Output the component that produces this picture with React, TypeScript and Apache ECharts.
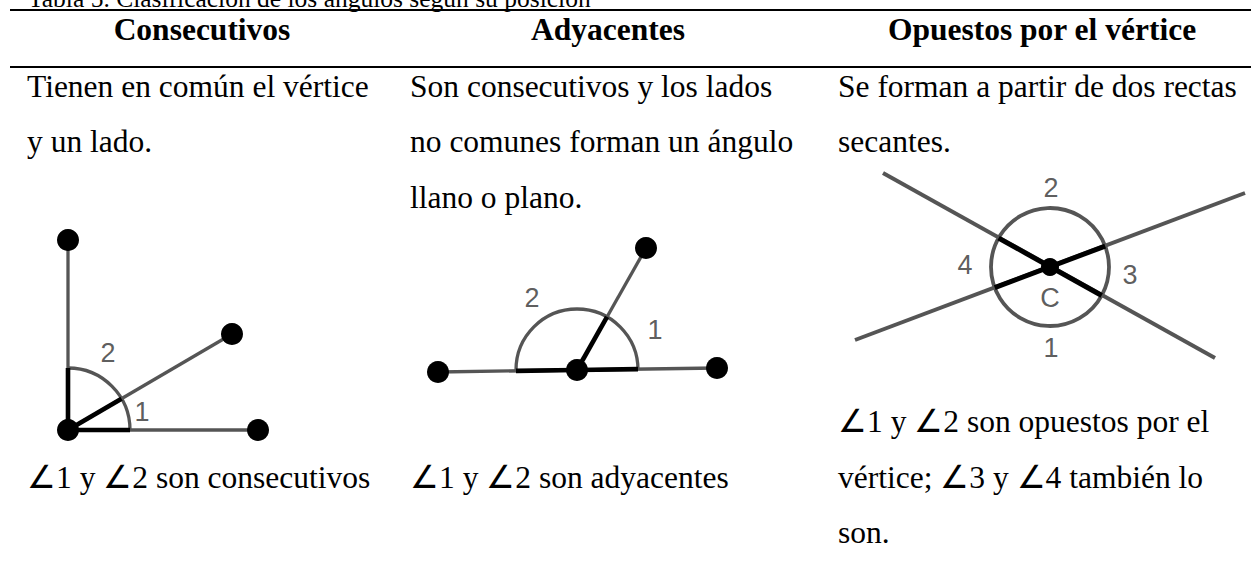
import React, { useEffect, useRef } from "react";
import * as echarts from "echarts";

// ---------- texts ----------
const caption = "Tabla 5. Clasificación de los ángulos según su posición";
const headers = ["Consecutivos", "Adyacentes", "Opuestos por el vértice"];
const descLines = [
  ["Tienen en común el vértice", "y un lado."],
  ["Son consecutivos y los lados", "no comunes forman un ángulo", "llano o plano."],
  ["Se forman a partir de dos rectas", "secantes."],
];
const noteLines = [
  ["∠1 y ∠2 son consecutivos"],
  ["∠1 y ∠2 son adyacentes"],
  ["∠1 y ∠2 son opuestos por el", "vértice; ∠3 y ∠4 también lo", "son."],
];

// ---------- diagram data (local units, vertex at origin, y up) ----------
// consecutive angles
const consEnds = [[0, 190], [164, 96], [190, 0]];
const consArc = [0, 0, 62, 0, 90]; // cx, cy, r, fromDeg, toDeg
const consLabels = [{ value: [40, 77], name: "2" }, { value: [74, 18], name: "1" }];

// adjacent angles
const adjEnds = [[-139, -2], [69, 122], [140, 2]];
const adjArc = [0, 0, 61, 0, 180];
const adjLabels = [{ value: [-45, 72], name: "2" }, { value: [78, 40], name: "1" }];

// vertical (opposite) angles
const oppLines = [
  [[-167, 94], [165, -91]],
  [[-195, -73], [195, 74]],
];
const oppCircle = [0, 0, 59, 0, 360];
const oppLabels = [
  { value: [1, 79], name: "2" },
  { value: [-85, 2], name: "4" },
  { value: [80, -8], name: "3" },
  { value: [0, -31], name: "C" },
  { value: [1, -81], name: "1" },
];

const ORIGIN = [0, 0];

// ---------- styling ----------
const W = 1251;
const H = 563;
const FS = 31.5;
const CAP_FS = 25.5;
const SERIF = "'Liberation Serif', 'Times New Roman', serif";
const SANS = "'Liberation Sans', Arial, sans-serif";
const GRAY = "#555";

function toward(p: number[], r: number) {
  const len = Math.hypot(p[0], p[1]);
  return [(p[0] * r) / len, (p[1] * r) / len];
}

function seg(gi: number, a: number[], b: number[], color: string, width: number, z: number) {
  return {
    type: "line",
    xAxisIndex: gi,
    yAxisIndex: gi,
    data: [a, b],
    showSymbol: false,
    symbol: "none",
    silent: true,
    z,
    lineStyle: { color, width, cap: "butt", opacity: 1 },
  };
}

function arcSeries(gi: number, arc: number[], width: number) {
  return {
    type: "custom",
    coordinateSystem: "cartesian2d",
    xAxisIndex: gi,
    yAxisIndex: gi,
    silent: true,
    z: 1,
    data: [arc],
    encode: { x: 0, y: 1 },
    renderItem: (_p: any, api: any) => {
      const c = api.coord([api.value(0), api.value(1)]);
      const r = api.size([api.value(2), 0])[0];
      const from = (api.value(3) * Math.PI) / 180;
      const to = (api.value(4) * Math.PI) / 180;
      return {
        type: "arc",
        shape: { cx: c[0], cy: c[1], r, startAngle: -to, endAngle: -from, clockwise: true },
        style: { stroke: GRAY, lineWidth: width, fill: "none" },
      };
    },
  };
}

function dots(gi: number, pts: number[][], size: number) {
  return {
    type: "scatter",
    xAxisIndex: gi,
    yAxisIndex: gi,
    data: pts,
    symbol: "circle",
    symbolSize: size,
    silent: true,
    z: 5,
    itemStyle: { color: "#000", opacity: 1 },
  };
}

function labels(gi: number, items: any[]) {
  return {
    type: "scatter",
    xAxisIndex: gi,
    yAxisIndex: gi,
    data: items,
    symbolSize: 1,
    silent: true,
    z: 6,
    itemStyle: { color: "transparent" },
    label: {
      show: true,
      position: "inside",
      formatter: "{b}",
      fontFamily: SANS,
      fontSize: 27,
      color: "#333",
    },
  };
}

function txt(text: string, x: number, baseline: number, fs: number, opts: any = {}) {
  return {
    type: "text",
    x,
    y: baseline - 0.3375 * fs,
    silent: true,
    style: {
      text,
      fill: "#000",
      fontFamily: SERIF,
      fontSize: fs,
      fontWeight: opts.bold ? "bold" : "normal",
      textAlign: opts.align || "left",
      textVerticalAlign: "middle",
    },
  };
}

function buildOption() {
  const grids = [
    { left: 48, top: 220, width: 230, height: 230 },
    { left: 417, top: 220, width: 320, height: 180 },
    { left: 850, top: 167, width: 400, height: 200 },
  ];
  const xr = [[-20, 210], [-160, 160], [-200, 200]];
  const yr = [[-20, 210], [-30, 150], [-100, 100]];

  const series: any[] = [];
  // diagram 1
  consEnds.forEach((p) => series.push(seg(0, ORIGIN, p, GRAY, 3.3, 2)));
  consEnds.forEach((p) => series.push(seg(0, ORIGIN, toward(p, consArc[2]), "#000", 4.6, 3)));
  series.push(arcSeries(0, consArc, 3.3));
  series.push(dots(0, [ORIGIN, ...consEnds], 22));
  series.push(labels(0, consLabels));
  // diagram 2
  adjEnds.forEach((p) => series.push(seg(1, ORIGIN, p, GRAY, 3.3, 2)));
  adjEnds.forEach((p) => series.push(seg(1, ORIGIN, toward(p, adjArc[2]), "#000", 4.6, 3)));
  series.push(arcSeries(1, adjArc, 3.3));
  series.push(dots(1, [ORIGIN, ...adjEnds], 22));
  series.push(labels(1, adjLabels));
  // diagram 3
  oppLines.forEach(([a, b]) => series.push(seg(2, a, b, GRAY, 4, 2)));
  oppLines.forEach(([a, b]) =>
    series.push(seg(2, toward(a, oppCircle[2]), toward(b, oppCircle[2]), "#000", 5, 3))
  );
  series.push(arcSeries(2, oppCircle, 3.8));
  series.push(dots(2, [ORIGIN], 18));
  series.push(labels(2, oppLabels));

  const colLeft = [27, 410, 838];
  const headCenter = [202, 608, 1042];
  const rowBase = [97, 152.5, 208];
  const noteBase = [[488], [488], [432, 488, 543]];

  const graphic: any[] = [
    txt(caption, 28, 7, CAP_FS),
    { type: "line", silent: true, shape: { x1: 10, y1: 10, x2: W, y2: 10 }, style: { stroke: "#000", lineWidth: 2 } },
    { type: "line", silent: true, shape: { x1: 10, y1: 67, x2: W, y2: 67 }, style: { stroke: "#000", lineWidth: 2 } },
  ];
  headers.forEach((h, i) => graphic.push(txt(h, headCenter[i], 40, FS, { bold: true, align: "center" })));
  descLines.forEach((lines, i) =>
    lines.forEach((l, j) => graphic.push(txt(l, colLeft[i], rowBase[j], FS)))
  );
  noteLines.forEach((lines, i) =>
    lines.forEach((l, j) => graphic.push(txt(l, colLeft[i], noteBase[i][j], FS)))
  );

  return {
    animation: false,
    backgroundColor: "#fff",
    grid: grids.map((g) => ({ ...g, containLabel: false })),
    xAxis: xr.map((r, i) => ({ type: "value", gridIndex: i, min: r[0], max: r[1], show: false })),
    yAxis: yr.map((r, i) => ({ type: "value", gridIndex: i, min: r[0], max: r[1], show: false })),
    series,
    graphic,
  };
}

export default function App() {
  const ref = useRef<HTMLDivElement>(null);
  useEffect(() => {
    document.body.style.margin = "0";
    if (!ref.current) return;
    const chart = echarts.init(ref.current, undefined, { renderer: "svg" });
    chart.setOption(buildOption() as any);
    return () => chart.dispose();
  }, []);
  return <div ref={ref} style={{ width: W, height: H, background: "#fff" }} />;
}
